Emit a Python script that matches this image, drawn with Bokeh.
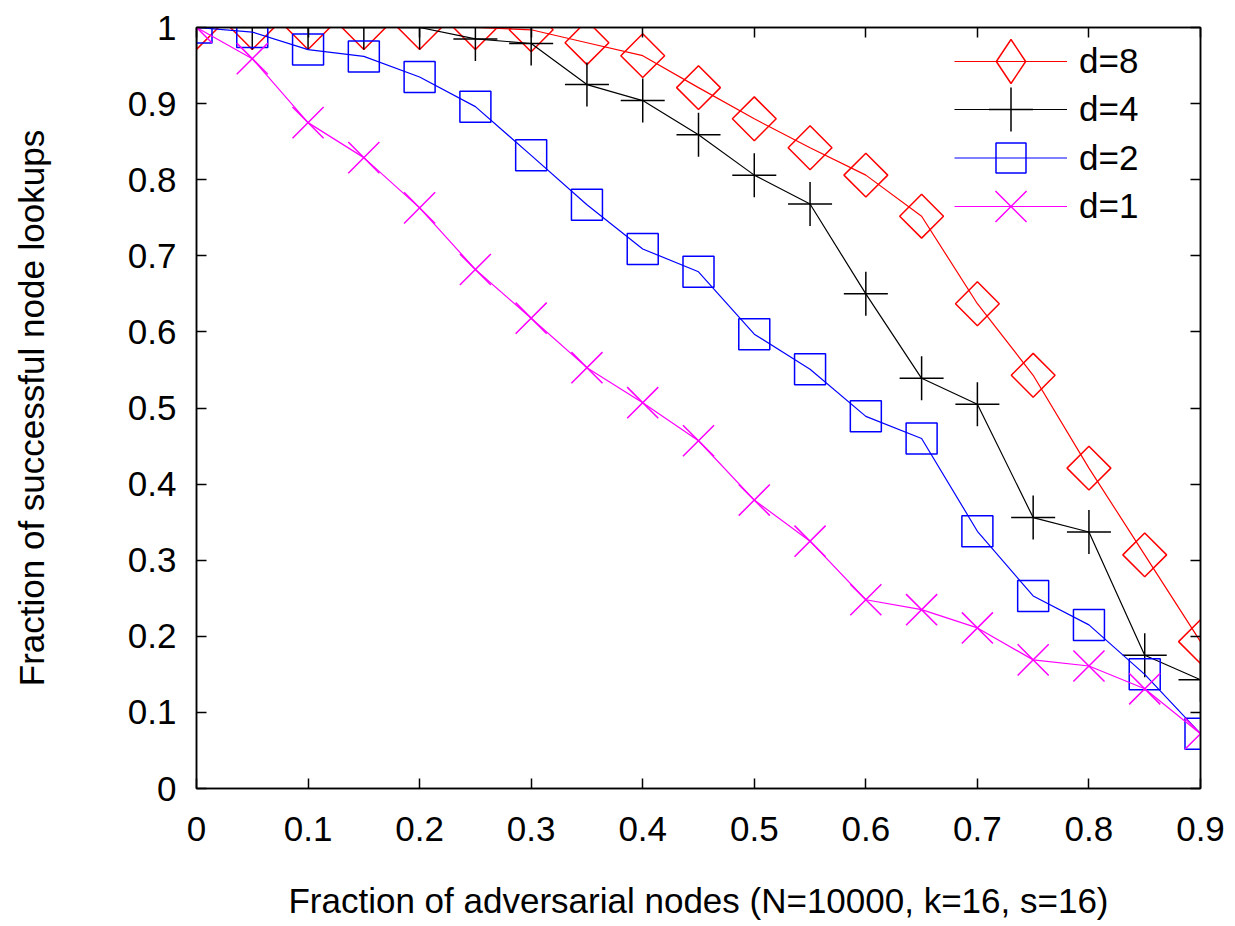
import math
from bokeh.plotting import figure
from bokeh.models import LinearAxis, FixedTicker, Range1d, Legend, LegendItem
from bokeh.embed import file_html
from bokeh.resources import INLINE

# ---- data ----
x_vals = [0.0, 0.05, 0.1, 0.15, 0.2, 0.25, 0.3, 0.35, 0.4, 0.45,
          0.5, 0.55, 0.6, 0.65, 0.7, 0.75, 0.8, 0.85, 0.9]
d8 = [1.0, 1.0, 1.0, 1.0, 1.0, 1.0, 0.997, 0.98, 0.963, 0.921,
      0.88, 0.842, 0.806, 0.752, 0.637, 0.543, 0.421, 0.307, 0.193]
d4 = [1.0, 1.0, 1.0, 1.0, 1.0, 0.985, 0.979, 0.925, 0.904, 0.859,
      0.806, 0.768, 0.65, 0.539, 0.505, 0.356, 0.337, 0.175, 0.143]
d2 = [1.0, 0.994, 0.971, 0.962, 0.935, 0.896, 0.832, 0.767, 0.709, 0.679,
      0.597, 0.551, 0.489, 0.46, 0.338, 0.253, 0.215, 0.15, 0.072]
d1 = [1.0, 0.959, 0.875, 0.829, 0.763, 0.682, 0.618, 0.553, 0.507, 0.457,
      0.379, 0.325, 0.248, 0.235, 0.211, 0.169, 0.161, 0.131, 0.072]

series_labels = ["d=8", "d=4", "d=2", "d=1"]
x_ticks = [0.0, 0.1, 0.2, 0.3, 0.4, 0.5, 0.6, 0.7, 0.8, 0.9]
x_tick_labels = ["0", "0.1", "0.2", "0.3", "0.4", "0.5", "0.6", "0.7", "0.8", "0.9"]
y_ticks = [0.0, 0.1, 0.2, 0.3, 0.4, 0.5, 0.6, 0.7, 0.8, 0.9, 1.0]
y_tick_labels = ["0", "0.1", "0.2", "0.3", "0.4", "0.5", "0.6", "0.7", "0.8", "0.9", "1"]
x_title = "Fraction of adversarial nodes (N=10000, k=16, s=16)"
y_title = "Fraction of successful node lookups"

FONT = "Liberation Sans"
FS = "35px"

p = figure(width=1227, height=923, output_backend="svg", toolbar_location=None,
           x_range=Range1d(0, 0.9), y_range=Range1d(0, 1),
           min_border_left=196, min_border_right=27, min_border_top=27,
           min_border_bottom=135)
p.xgrid.visible = False
p.ygrid.visible = False
p.outline_line_color = "black"
p.outline_line_width = 1.5
p.background_fill_color = "white"
p.border_fill_color = "white"


def style_axis(ax, ticks, labels, show_labels):
    ax.ticker = FixedTicker(ticks=ticks)
    ax.minor_tick_line_color = None
    ax.major_tick_in = 10
    ax.major_tick_out = 0
    ax.major_tick_line_width = 1.5
    ax.major_tick_line_color = "black"
    ax.axis_line_width = 1.5
    ax.axis_line_color = "black"
    ax.major_label_text_font = FONT
    ax.major_label_text_color = "black"
    if show_labels:
        ax.major_label_overrides = {t: l for t, l in zip(ticks, labels)}
        ax.major_label_text_font_size = FS
    else:
        ax.major_label_overrides = {t: "" for t in ticks}
        ax.major_label_text_font_size = "1px"
        ax.major_label_standoff = 0


xa = p.xaxis[0]
style_axis(xa, x_ticks, x_tick_labels, True)
xa.major_label_standoff = 28
xa.axis_label = x_title
xa.axis_label_text_font = FONT
xa.axis_label_text_font_size = FS
xa.axis_label_text_font_style = "normal"
xa.axis_label_text_color = "black"
xa.axis_label_standoff = 37

ya = p.yaxis[0]
style_axis(ya, y_ticks, y_tick_labels, True)
ya.major_label_standoff = 20
ya.axis_label = y_title
ya.axis_label_text_font = FONT
ya.axis_label_text_font_size = FS
ya.axis_label_text_font_style = "normal"
ya.axis_label_text_color = "black"
ya.axis_label_standoff = 74

top_ax = LinearAxis()
style_axis(top_ax, x_ticks, x_tick_labels, False)
p.add_layout(top_ax, "above")
right_ax = LinearAxis()
style_axis(right_ax, y_ticks, y_tick_labels, False)
p.add_layout(right_ax, "right")

styles = [
    dict(color="#ff0000", marker="square", angle=math.pi / 4, size=31, legend_marker="diamond"),
    dict(color="#000000", marker="cross", angle=0.0, size=44, legend_marker=None),
    dict(color="#0000ff", marker="square", angle=0.0, size=31, legend_marker=None),
    dict(color="#ff00ff", marker="x", angle=0.0, size=44, legend_marker=None),
]
# one-row legends: (bottom edge in px above the frame bottom, glyph box height);
# half-pixel offsets keep the key lines on a pixel row
legend_rows = [(672.5, 110), (624.5, 110), (593, 75), (527.5, 110)]

for ys, lab, st, (lb, gh) in zip([d8, d4, d2, d1], series_labels, styles, legend_rows):
    ln = p.line(x_vals, ys, line_color=st["color"], line_width=1.2)
    sc = p.scatter(x_vals, ys, marker=st["marker"], angle=st["angle"], size=st["size"],
                   fill_color=None, line_color=st["color"], line_width=1.5)
    if st["legend_marker"]:
        # key-only glyph: same x positions, no drawable y (NaN) -> nothing in the plot,
        # but the legend shows an unrotated diamond key
        key = p.scatter(x=x_vals, y=[float("nan")] * len(x_vals),
                        marker=st["legend_marker"], size=st["size"],
                        fill_color=None, line_color=st["color"], line_width=1.5)
        rends = [ln, key]
    else:
        rends = [ln, sc]
    lg = Legend(items=[LegendItem(label=lab, renderers=rends)],
                location=(758, lb), glyph_width=113, glyph_height=gh,
                spacing=0, padding=0, margin=0, label_standoff=12,
                label_text_font=FONT, label_text_font_size=FS, label_text_color="black",
                border_line_color=None, background_fill_alpha=0)
    p.add_layout(lg)

open("out.html", "w").write(file_html(p, INLINE))
